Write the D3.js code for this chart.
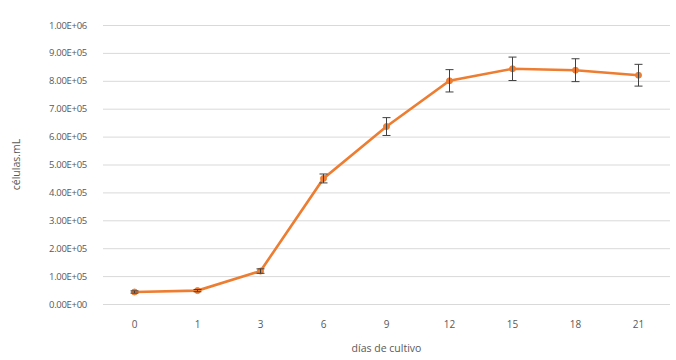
<!DOCTYPE html>
<html><head><meta charset="utf-8">
<script src="https://cdn.jsdelivr.net/npm/d3@7"></script>
<style>body{margin:0;background:#fff}svg text{font-family:"Open Sans",Lato,sans-serif;fill:#595959}</style>
</head><body><svg id="c" width="676" height="360"></svg>
<script>
const days = ["0","1","3","6","9","12","15","18","21"];
const cells = [43000, 48000, 118000, 450000, 636000, 800000, 843000, 838000, 820000];
const errs = [4000, 4000, 8000, 16000, 32000, 40000, 42000, 41000, 39000];
const yTicks = [0,100000,200000,300000,400000,500000,600000,700000,800000,900000,1000000];
const yTitle = "células.mL";
const xTitle = "días de cultivo";

const svg = d3.select("#c");
const L = 103, R = 670, T = 25, B = 304;
const x = d3.scaleBand().domain(days).range([L, R]);
const y = d3.scaleLinear().domain([0, 1000000]).range([B, T]);

const fmt = v => { if (v === 0) return "0.00E+00"; const e = Math.floor(Math.log10(v)); return (v/Math.pow(10,e)).toFixed(2) + "E+" + String(e).padStart(2,"0"); };

const gy = svg.append("g").attr("transform", `translate(${L},0)`)
  .call(d3.axisLeft(y).tickValues(yTicks).tickSize(-(R-L)).tickFormat(fmt).tickPadding(16));
gy.select(".domain").remove();
gy.selectAll(".tick line").attr("stroke", "#d9d9d9");
gy.selectAll(".tick text").attr("font-size", 9.5).attr("letter-spacing", "-0.3");

const gx = svg.append("g").attr("transform", `translate(0,${B})`)
  .call(d3.axisBottom(x).tickSize(0).tickPadding(17));
gx.select(".domain").remove();
gx.selectAll(".tick text").attr("font-size", 10);

const cx = d => x(d) + x.bandwidth()/2;
const pts = days.map((d,i) => ({d, v: cells[i], e: errs[i]}));

svg.append("path").datum(pts)
  .attr("fill", "none").attr("stroke", "#ED7D31").attr("stroke-width", 2.6)
  .attr("d", d3.line().x(p => cx(p.d)).y(p => y(p.v)));

svg.selectAll("circle.m").data(pts).join("circle")
  .attr("cx", p => cx(p.d)).attr("cy", p => y(p.v)).attr("r", 3)
  .attr("fill", "#ED7D31").attr("stroke", "#ED7D31");

const eb = svg.append("g").attr("stroke", "#404040").attr("stroke-width", 1);
pts.forEach(p => {
  const x0 = cx(p.d), y1 = y(p.v + p.e), y2 = y(p.v - p.e);
  eb.append("line").attr("x1", x0).attr("x2", x0).attr("y1", y1).attr("y2", y2);
  eb.append("line").attr("x1", x0-4).attr("x2", x0+4).attr("y1", y1).attr("y2", y1);
  eb.append("line").attr("x1", x0-4).attr("x2", x0+4).attr("y1", y2).attr("y2", y2);
});

svg.append("text").attr("transform", `translate(20,${(T+B)/2}) rotate(-90)`)
  .attr("text-anchor", "middle").attr("font-size", 10.5).text(yTitle);
svg.append("text").attr("x", (L+R)/2).attr("y", 352)
  .attr("text-anchor", "middle").attr("font-size", 10.5).text(xTitle);
</script></body></html>
